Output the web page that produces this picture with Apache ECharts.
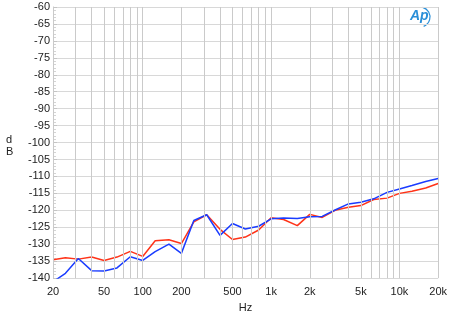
<!DOCTYPE html>
<html>
<head>
<meta charset="utf-8">
<script src="https://cdn.jsdelivr.net/npm/echarts@6/dist/echarts.min.js"></script>
<style>html,body{margin:0;padding:0;background:#fff;}#c{width:450px;height:318px;}</style>
</head>
<body>
<div id="c"></div>
<script>
const freqs = [20,25,31.5,40,50,63,80,100,125,160,200,250,315,400,500,630,800,1000,1250,1600,2000,2500,3150,4000,5000,6300,8000,10000,12500,16000,20000];
const blueVals = [-141.1,-138.6,-134.2,-137.8,-137.9,-137.0,-133.7,-134.8,-132.2,-130.0,-132.7,-123.0,-121.3,-127.4,-123.9,-125.5,-124.7,-122.5,-122.3,-122.4,-121.9,-121.8,-119.9,-118.1,-117.6,-116.6,-114.7,-113.7,-112.7,-111.5,-110.6];
const redVals = [-134.6,-134.0,-134.4,-133.8,-134.8,-133.8,-132.1,-133.6,-129.0,-128.7,-129.8,-123.4,-121.3,-125.6,-128.6,-127.9,-125.8,-122.2,-122.7,-124.5,-121.2,-122.1,-120.0,-119.1,-118.6,-116.8,-116.4,-115.0,-114.4,-113.4,-112.1];
const xTickLabels = [20,50,100,200,500,1000,2000,5000,10000,20000];
const xGridVals = [20,30,40,50,60,70,80,90,100,200,300,400,500,600,700,800,900,1000,2000,3000,4000,5000,6000,7000,8000,9000,10000,20000];

const chart = echarts.init(document.getElementById('c'), null, {renderer:'canvas'});
const fmt = v => v >= 1000 ? (v/1000) + 'k' : String(v);
const lab = {color:'#222', fontFamily:'Liberation Sans, Arial, sans-serif', fontSize:11};
chart.setOption({
  animation:false,
  grid:{left:53, right:9.5, top:7, bottom:36, containLabel:false},
  xAxis:{
    type:'log', logBase:10, min:20, max:20000,
    name:'Hz', nameLocation:'middle', nameGap:16,
    nameTextStyle:Object.assign({}, lab),
    axisLine:{show:false},
    axisTick:{show:false},
    splitLine:{show:false},
    minorSplitLine:{show:false},
    axisLabel:Object.assign({customValues:xTickLabels, formatter:fmt, margin:8}, lab)
  },
  yAxis:{
    type:'value', min:-140, max:-60, interval:5,
    axisLine:{show:true, lineStyle:{color:'#c4c4c4'}},
    axisTick:{show:true, inside:true, length:4, lineStyle:{color:'#c4c4c4'}},
    minorTick:{show:true, splitNumber:5, length:3, lineStyle:{color:'#d4d4d4'}},
    splitLine:{show:true, lineStyle:{color:'#d8d8d8', width:1}},
    axisLabel:Object.assign({margin:3}, lab)
  },
  graphic:[
    {type:'text', left:6, top:134, style:{text:'d\nB', fill:'#222', font:'11px Liberation Sans, Arial, sans-serif', lineHeight:12}},
    {type:'text', left:410, top:9, style:{text:'Ap', fill:'#2a8fd8', font:'italic bold 14px Liberation Sans, Arial, sans-serif'}},
    {type:'arc', shape:{cx:420, cy:17, r:10, startAngle:-1.3, endAngle:1.2}, style:{stroke:'#2a8fd8', lineWidth:1.2, fill:null}}
  ],
  series:[
    {type:'line', data:[], silent:true,
     markLine:{silent:true, symbol:['none','none'], label:{show:false},
       lineStyle:{color:'#cacaca', width:1, type:'solid'},
       data: xGridVals.map(v => ({xAxis:v}))}},
    {name:'R', type:'line', data:freqs.map((f,i)=>[f, redVals[i]]), showSymbol:false, clip:true,
     lineStyle:{color:'#ff3318', width:1.5}, z:3},
    {name:'B', type:'line', data:freqs.map((f,i)=>[f, blueVals[i]]), showSymbol:false, clip:true,
     lineStyle:{color:'#1a3cff', width:1.5}, z:4}
  ]
});
</script>
</body>
</html>
